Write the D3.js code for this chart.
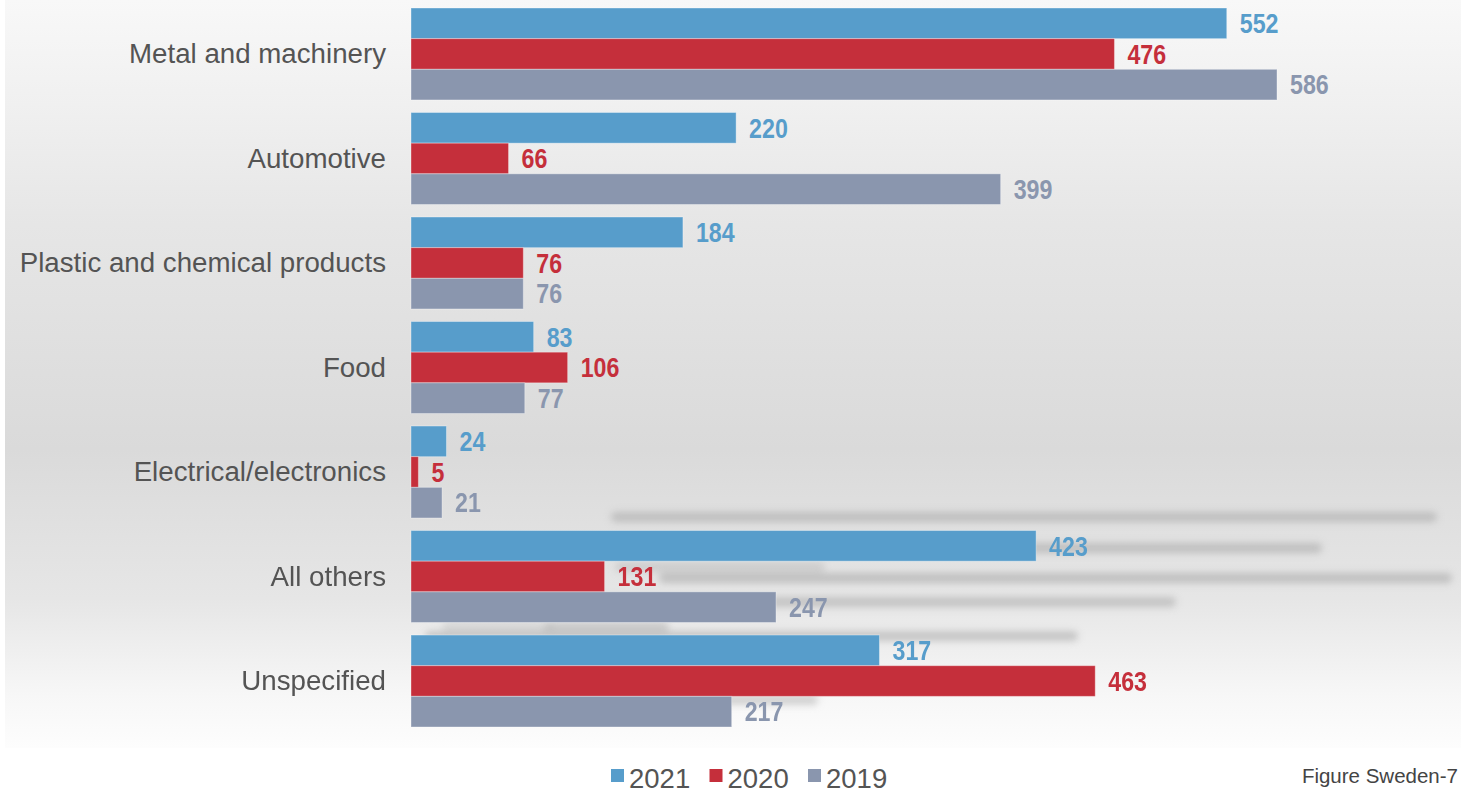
<!DOCTYPE html>
<html>
<head>
<meta charset="utf-8">
<script src="https://cdn.jsdelivr.net/npm/d3@7"></script>
<style>
  html, body { margin: 0; padding: 0; background: #ffffff; }
  svg { display: block; }
  .cat { font-family: "Liberation Sans", Arial, sans-serif; font-size: 27.7px; fill: #545454; }
  .val { font-family: "Liberation Sans Narrow", "Arial Narrow", "Liberation Sans", sans-serif; font-weight: bold; font-size: 27px; }
  .leg { font-family: "Liberation Sans", Arial, sans-serif; font-size: 27.5px; fill: #545454; }
  .fig { font-family: "Liberation Sans", Arial, sans-serif; font-size: 20.5px; fill: #444; }
</style>
</head>
<body>
<svg id="chart" width="1461" height="793"></svg>
<script>
// Sectors and yearly values
const categories = ["Metal and machinery", "Automotive", "Plastic and chemical products", "Food", "Electrical/electronics", "All others", "Unspecified"];
const years = ["2021", "2020", "2019"];
const values2021 = [552, 220, 184, 83, 24, 423, 317];
const values2020 = [476, 66, 76, 106, 5, 131, 463];
const values2019 = [586, 399, 76, 77, 21, 247, 217];
const seriesColors = ["#579dcb", "#c52f3b", "#8a96ae"];
const figureCaption = "Figure Sweden-7";

const series = [values2021, values2020, values2019];

const W = 1461, H = 793;
const svg = d3.select("#chart");
const defs = svg.append("defs");

// Soft grey backdrop panel
const grad = defs.append("linearGradient").attr("id", "bg").attr("x1", 0).attr("x2", 0).attr("y1", 0).attr("y2", 1);
[[0, "#f8f8f8"], [0.14, "#f0f0f0"], [0.3, "#e6e6e6"], [0.6, "#dadada"], [0.8, "#e6e6e6"], [0.93, "#f7f7f7"], [1, "#fdfdfd"]]
  .forEach(([o, c]) => grad.append("stop").attr("offset", o).attr("stop-color", c));
svg.append("rect").attr("x", 5).attr("y", 0).attr("width", W - 5).attr("height", 748).attr("fill", "url(#bg)");

const blur = defs.append("filter").attr("id", "soft").attr("x", "-10%").attr("y", "-300%").attr("width", "120%").attr("height", "700%");
blur.append("feGaussianBlur").attr("stdDeviation", 3.6);

// Scales
const x = d3.scaleLinear().domain([0, 586]).range([411, 1277]);
const y0 = d3.scaleBand().domain(categories).range([8, 727]).paddingInner(0.12).paddingOuter(0);
const y1 = d3.scaleBand().domain(years).range([0, y0.bandwidth()]);

// Blurred shadow streaks in the lower part of the backdrop
const streaks = [
  [616, 1432, 517, 0.8], [430, 1317, 548, 0.8], [620, 820, 567, 0.5], [664, 1447, 578, 0.8],
  [430, 1171, 602, 0.75], [447, 549, 627, 0.4], [549, 664, 627, 0.65], [430, 1073, 636, 0.75], [430, 813, 700, 0.6]
];
svg.append("g").attr("filter", "url(#soft)")
  .selectAll("line").data(streaks).join("line")
  .attr("x1", d => d[0]).attr("x2", d => d[1]).attr("y1", d => d[2]).attr("y2", d => d[2])
  .attr("stroke", "#b8b8b8").attr("stroke-width", 10).attr("stroke-linecap", "round")
  .attr("opacity", d => d[3]);

// Bars
const groups = svg.append("g").selectAll("g").data(categories).join("g")
  .attr("transform", c => `translate(0,${y0(c)})`);

groups.each(function (cat, ci) {
  const g = d3.select(this);
  years.forEach((yr, si) => {
    const v = series[si][ci];
    g.append("rect")
      .attr("x", x(0)).attr("y", y1(yr))
      .attr("width", x(v) - x(0)).attr("height", y1.bandwidth())
      .attr("fill", seriesColors[si])
      .attr("stroke", "rgba(255,255,255,0.35)").attr("stroke-width", 1);
    g.append("text").attr("class", "val")
      .attr("transform", `translate(${x(v) + 13},${y1(yr) + y1.bandwidth() / 2}) scale(0.86,1)`)
      .attr("dy", "0.36em")
      .attr("fill", seriesColors[si])
      .text(v);
  });
  g.append("text").attr("class", "cat")
    .attr("x", 386).attr("y", y0.bandwidth() / 2).attr("dy", "0.34em")
    .attr("text-anchor", "end").text(cat);
});

// Legend
const legend = svg.append("g").attr("transform", "translate(611,0)");
const legX = d3.scalePoint().domain(years).range([0, 197]);
years.forEach((yr, i) => {
  const lx = legX(yr);
  legend.append("rect").attr("x", lx).attr("y", 769).attr("width", 13).attr("height", 13).attr("fill", seriesColors[i]);
  legend.append("text").attr("class", "leg").attr("x", lx + 18).attr("y", 788).text(yr);
});

// Figure caption, kept inside the right edge
svg.append("text").attr("class", "fig").attr("x", W - 3).attr("y", 783).attr("text-anchor", "end").text(figureCaption);
</script>
</body>
</html>
